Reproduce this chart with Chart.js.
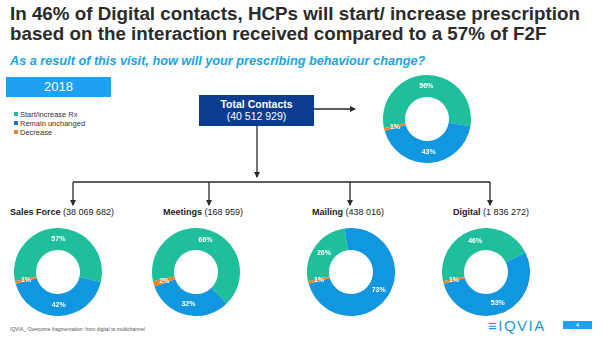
<!DOCTYPE html>
<html>
<head>
<meta charset="utf-8">
<script src="https://cdn.jsdelivr.net/npm/chart.js"></script>
<style>
  html, body { margin:0; padding:0; background:#fff; }
  body { width:603px; height:342px; position:relative; overflow:hidden; font-family:"Liberation Sans", Arial, sans-serif; }
  .abs { position:absolute; white-space:nowrap; }
  .title { left:10px; font-weight:bold; font-size:18.8px; color:#2b2b2b; line-height:20px; }
  .sub { left:10px; top:54px; font-weight:bold; font-style:italic; font-size:12.7px; color:#1ba3de; }
  .yearbox { left:6px; top:77px; width:105px; height:20px; background:#1fa0f2; color:#fff; font-size:13px; text-align:center; line-height:20px; }
  .leg { left:14px; font-size:7.5px; color:#333; line-height:9px; }
  .leg i { display:inline-block; width:4px; height:4px; margin-right:2px; vertical-align:1px; }
  .totbox { left:199px; top:95px; width:115px; height:31px; background:#0a3d8f; color:#fff; text-align:center; font-size:10.5px; line-height:12px; padding-top:3px; box-sizing:border-box; }
  .grp { font-size:9px; color:#222; top:207px; }
  .grp b { font-weight:bold; }
  canvas.d { position:absolute; }
  .foot { left:10px; top:326px; font-size:5px; color:#555; }
  .logo { left:488px; top:317px; font-size:15px; color:#1b9ad6; letter-spacing:1.5px; }
  .pg { left:563px; top:321px; width:29px; height:8px; background:#1fa0f2; color:#fff; font-size:6px; text-align:center; line-height:8px; }
</style>
</head>
<body>
<div class="abs title" style="top:4px" id="t1"></div>
<div class="abs title" style="top:24px" id="t2"></div>
<div class="abs sub" id="sub"></div>
<div class="abs yearbox" id="year"></div>
<div id="legend"></div>
<div class="abs totbox" id="tot"></div>
<svg class="abs" style="left:0;top:0" width="603" height="342">
  <defs>
    <marker id="ah" markerWidth="6" markerHeight="6" refX="5" refY="3" orient="auto" markerUnits="userSpaceOnUse">
      <path d="M0,0 L6,3 L0,6 Z" fill="#2a2a2a"/>
    </marker>
  </defs>
  <g stroke="#2a2a2a" stroke-width="1.3" fill="none">
    <line x1="314" y1="109" x2="355" y2="109" marker-end="url(#ah)"/>
    <line x1="257" y1="126" x2="257" y2="177" marker-end="url(#ah)"/>
    <line x1="73" y1="182" x2="490" y2="182"/>
    <line x1="73" y1="182" x2="73" y2="205" marker-end="url(#ah)"/>
    <line x1="209" y1="182" x2="209" y2="205" marker-end="url(#ah)"/>
    <line x1="350" y1="182" x2="350" y2="205" marker-end="url(#ah)"/>
    <line x1="490" y1="182" x2="490" y2="205" marker-end="url(#ah)"/>
  </g>
</svg>
<div class="abs foot">IQVIA_ Overcome fragmentation: from digital to multichannel</div>
<div class="abs logo">&#8801;IQVIA</div>
<div class="abs pg">4</div>
<script>
// chart data
const titleLines = ['In 46% of Digital contacts, HCPs will start/ increase prescription',
                    'based on the interaction received compared to a 57% of F2F'];
const question = 'As a result of this visit, how will your prescribing behaviour change?';
const year = '2018';
const answers = ['Start/increase Rx', 'Remain unchanged', 'Decrease'];
const groups = ['Total Contacts', 'Sales Force', 'Meetings', 'Mailing', 'Digital'];
const contacts = ['40 512 929', '38 069 682', '168 959', '438 016', '1 836 272'];
const startRx = [56, 57, 66, 26, 46];
const unchanged = [43, 42, 32, 73, 53];
const decrease = [1, 1, 2, 1, 1];

const colors = ['#1fbf9c', '#1196e0', '#f5801f'];
const legendMarks = ['#1fbf9c', '#1a6fe0', '#f5801f'];

// donut canvas positions (left, top) and label lefts
const slots = [
    {x:383, y:75},
    {x:13.5, y:228, lx:10},
    {x:152, y:228, lx:163},
    {x:307, y:228, lx:312},
    {x:442, y:228, lx:453}
];

document.getElementById('t1').textContent = titleLines[0];
document.getElementById('t2').textContent = titleLines[1];
document.getElementById('sub').textContent = question;
document.getElementById('year').textContent = year;

const leg = document.getElementById('legend');
answers.forEach((a, i) => {
    const d = document.createElement('div');
    d.className = 'abs leg';
    d.style.top = (110 + i*9) + 'px';
    d.innerHTML = '<i style="background:' + legendMarks[i] + '"></i>' + a;
    leg.appendChild(d);
});

document.getElementById('tot').innerHTML = '<b>' + groups[0] + '</b><br>(' + contacts[0] + ')';

const pctLabels = {
    id: 'pctLabels',
    afterDatasetsDraw(chart){
        const ctx = chart.ctx;
        const meta = chart.getDatasetMeta(0);
        ctx.save();
        ctx.fillStyle = '#fff';
        ctx.font = 'bold 7px "Liberation Sans", Arial, sans-serif';
        ctx.textAlign = 'center';
        ctx.textBaseline = 'middle';
        meta.data.forEach((arc, i) => {
            const p = arc.tooltipPosition();
            ctx.fillText(chart.data.datasets[0].data[i] + '%', p.x, p.y);
        });
        ctx.restore();
    }
};

groups.forEach((g, k) => {
    const s = slots[k];
    const c = document.createElement('canvas');
    c.className = 'd';
    c.width = 88; c.height = 88;
    c.style.left = s.x + 'px'; c.style.top = s.y + 'px';
    c.style.width = '88px'; c.style.height = '88px';
    document.body.appendChild(c);
    new Chart(c.getContext('2d'), {
        type: 'doughnut',
        data: {
            labels: answers,
            datasets: [{
                data: [startRx[k], unchanged[k], decrease[k]],
                backgroundColor: colors,
                borderWidth: 0
            }]
        },
        options: {
            responsive: false,
            animation: false,
            cutout: '50%',
            rotation: -102,
            layout: { padding: 0 },
            plugins: { legend: { display: false }, tooltip: { enabled: false } }
        },
        plugins: [pctLabels]
    });
    if (k > 0) {
        const lab = document.createElement('div');
        lab.className = 'abs grp';
        lab.style.left = s.lx + 'px';
        lab.innerHTML = '<b>' + g + '</b> (' + contacts[k] + ')';
        document.body.appendChild(lab);
    }
});
</script>
</body>
</html>
